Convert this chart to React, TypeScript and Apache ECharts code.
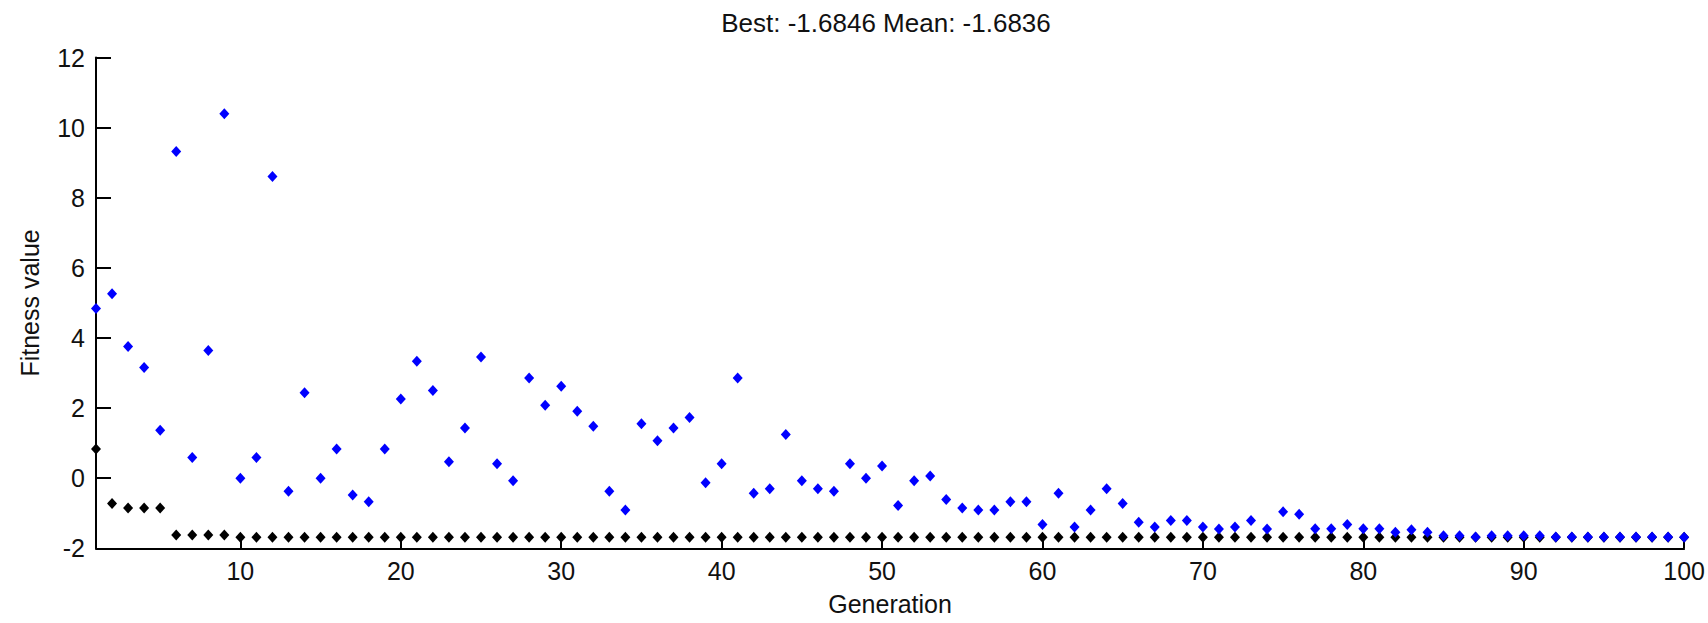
import React, { useEffect, useRef } from "react";
import * as echarts from "echarts";

const generations = [
  1, 2, 3, 4, 5, 6, 7, 8, 9, 10, 11, 12, 13, 14, 15, 16, 17, 18, 19, 20,
  21, 22, 23, 24, 25, 26, 27, 28, 29, 30, 31, 32, 33, 34, 35, 36, 37, 38, 39, 40,
  41, 42, 43, 44, 45, 46, 47, 48, 49, 50, 51, 52, 53, 54, 55, 56, 57, 58, 59, 60,
  61, 62, 63, 64, 65, 66, 67, 68, 69, 70, 71, 72, 73, 74, 75, 76, 77, 78, 79, 80,
  81, 82, 83, 84, 85, 86, 87, 88, 89, 90, 91, 92, 93, 94, 95, 96, 97, 98, 99, 100,
];

const bestFitness = [
  0.83, -0.72, -0.85, -0.85, -0.85, -1.62, -1.62, -1.62, -1.62, -1.6846,
  -1.6846, -1.6846, -1.6846, -1.6846, -1.6846, -1.6846, -1.6846, -1.6846, -1.6846, -1.6846,
  -1.6846, -1.6846, -1.6846, -1.6846, -1.6846, -1.6846, -1.6846, -1.6846, -1.6846, -1.6846,
  -1.6846, -1.6846, -1.6846, -1.6846, -1.6846, -1.6846, -1.6846, -1.6846, -1.6846, -1.6846,
  -1.6846, -1.6846, -1.6846, -1.6846, -1.6846, -1.6846, -1.6846, -1.6846, -1.6846, -1.6846,
  -1.6846, -1.6846, -1.6846, -1.6846, -1.6846, -1.6846, -1.6846, -1.6846, -1.6846, -1.6846,
  -1.6846, -1.6846, -1.6846, -1.6846, -1.6846, -1.6846, -1.6846, -1.6846, -1.6846, -1.6846,
  -1.6846, -1.6846, -1.6846, -1.6846, -1.6846, -1.6846, -1.6846, -1.6846, -1.6846, -1.6846,
  -1.6846, -1.6846, -1.6846, -1.6846, -1.6846, -1.6846, -1.6846, -1.6846, -1.6846, -1.6846,
  -1.6846, -1.6846, -1.6846, -1.6846, -1.6846, -1.6846, -1.6846, -1.6846, -1.6846, -1.6846,
];

const meanFitness = [
  4.84, 5.26, 3.76, 3.16, 1.37, 9.32, 0.59, 3.64, 10.4, 0.0,
  0.59, 8.61, -0.37, 2.44, 0.0, 0.83, -0.48, -0.67, 0.83, 2.26,
  3.34, 2.5, 0.47, 1.43, 3.46, 0.41, -0.07, 2.86, 2.08, 2.62,
  1.91, 1.48, -0.37, -0.91, 1.55, 1.07, 1.43, 1.73, -0.13, 0.41,
  2.86, -0.43, -0.3, 1.25, -0.07, -0.3, -0.37, 0.41, 0.0, 0.35,
  -0.78, -0.07, 0.06, -0.61, -0.85, -0.91, -0.91, -0.67, -0.67, -1.32,
  -0.43, -1.39, -0.91, -0.3, -0.72, -1.26, -1.39, -1.21, -1.21, -1.39,
  -1.45, -1.39, -1.21, -1.45, -0.96, -1.03, -1.44, -1.44, -1.32, -1.44,
  -1.44, -1.54, -1.47, -1.54, -1.64, -1.64, -1.68, -1.64, -1.64, -1.64,
  -1.64, -1.68, -1.68, -1.68, -1.68, -1.68, -1.68, -1.68, -1.68, -1.6836,
];

const xTickValues = [10, 20, 30, 40, 50, 60, 70, 80, 90, 100];
const titleText = "Best: -1.6846 Mean: -1.6836";

const FONT = "'Liberation Sans', Arial, sans-serif";

export default function App() {
  const ref = useRef<HTMLDivElement>(null);

  useEffect(() => {
    if (!ref.current) return;
    const chart = echarts.init(ref.current, undefined, { renderer: "svg" });
    const bestData = generations.map((g, i) => [g, bestFitness[i]]);
    const meanData = generations.map((g, i) => [g, meanFitness[i]]);
    chart.setOption({
      animation: false,
      backgroundColor: "#ffffff",
      title: {
        text: titleText,
        left: 886,
        top: 10,
        padding: 0,
        textAlign: "center",
        textStyle: {
          fontFamily: FONT,
          fontSize: 26,
          fontWeight: "normal",
          color: "#111",
        },
      },
      grid: { left: 96, right: 22, top: 57.6, bottom: 74.7, containLabel: false },
      xAxis: {
        type: "value",
        min: 1,
        max: 100,
        name: "Generation",
        nameLocation: "middle",
        nameGap: 43,
        nameTextStyle: { fontFamily: FONT, fontSize: 25, color: "#111" },
        axisLine: { show: true, onZero: false, lineStyle: { color: "#000", width: 2 } },
        axisTick: {
          show: true,
          inside: true,
          length: 12,
          customValues: xTickValues,
          lineStyle: { color: "#000", width: 2 },
        },
        axisLabel: {
          show: true,
          customValues: xTickValues,
          margin: 10,
          fontFamily: FONT,
          fontSize: 25,
          color: "#111",
        },
        splitLine: { show: false },
      },
      yAxis: {
        type: "value",
        min: -2,
        max: 12,
        interval: 2,
        name: "Fitness value",
        nameLocation: "middle",
        nameRotate: 90,
        nameGap: 54,
        nameTextStyle: { fontFamily: FONT, fontSize: 25, color: "#111" },
        axisLine: { show: true, onZero: false, lineStyle: { color: "#000", width: 2 } },
        axisTick: {
          show: true,
          inside: true,
          length: 15,
          lineStyle: { color: "#000", width: 2 },
        },
        axisLabel: {
          margin: 11,
          fontFamily: FONT,
          fontSize: 25,
          color: "#111",
        },
        splitLine: { show: false },
      },
      series: [
        {
          name: "Best fitness",
          type: "scatter",
          data: bestData,
          symbol: "diamond",
          symbolSize: [10, 11],
          itemStyle: { color: "#000000", opacity: 1 },
          z: 2,
        },
        {
          name: "Mean fitness",
          type: "scatter",
          data: meanData,
          symbol: "diamond",
          symbolSize: [10, 11],
          itemStyle: { color: "#0000ff", opacity: 1 },
          z: 3,
        },
      ],
    });
    return () => chart.dispose();
  }, []);

  return (
    <div
      ref={ref}
      style={{ position: "absolute", left: 0, top: 0, width: 1708, height: 623 }}
    />
  );
}
